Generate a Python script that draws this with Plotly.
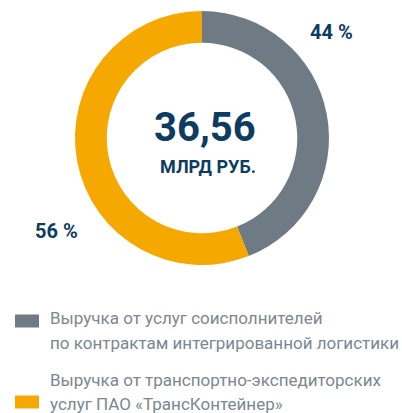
import plotly.graph_objects as go

# Data
categories = [
    "Выручка от услуг соисполнителей<br>по контрактам интегрированной логистики",
    "Выручка от транспортно-экспедиторских<br>услуг ПАО «ТрансКонтейнер»",
]
shares = [44, 56]
share_labels = ["44 %", "56 %"]
total_value = "36,56"
total_unit = "МЛРД РУБ."
colors = ["#6f7b84", "#f5a800"]

W, H = 402, 413
NAVY = "#0d3c61"
GREY_TXT = "#7b8791"
FONT = "Roboto"

cx, cy, r = 202, 138, 127

fig = go.Figure()
fig.add_trace(go.Pie(
    values=shares,
    labels=categories,
    hole=0.75,
    sort=False,
    direction="clockwise",
    rotation=0,
    marker=dict(colors=colors, line=dict(width=0)),
    textinfo="none",
    hoverinfo="label+percent",
    showlegend=False,
    domain=dict(x=[(cx - r) / W, (cx + r) / W], y=[(H - cy - r) / H, (H - cy + r) / H]),
))

ann = []
# center text
ann.append(dict(x=205 / W, y=1 - 127 / H, xref="paper", yref="paper", text="<b>" + total_value + "</b>",
                showarrow=False, font=dict(family=FONT, size=40, color=NAVY), xanchor="center", yanchor="middle"))
ann.append(dict(x=208 / W, y=1 - 166 / H, xref="paper", yref="paper", text="<b>" + total_unit + "</b>",
                showarrow=False, font=dict(family=FONT, size=18, color=NAVY), xanchor="center", yanchor="middle"))
# percent labels
label_pos = [(331, 32), (56, 231)]
for (px, py), t in zip(label_pos, share_labels):
    ann.append(dict(x=px / W, y=1 - py / H, xref="paper", yref="paper", text="<b>" + t + "</b>",
                    showarrow=False, font=dict(family=FONT, size=20, color=NAVY), xanchor="center", yanchor="middle"))

# legend
legend_lines = [cat.split("<br>") for cat in categories]
legend_line_y = [[318, 343], [380, 404]]
square_y = [321, 402]
shapes = []
for i, lines in enumerate(legend_lines):
    for line, ly in zip(lines, legend_line_y[i]):
        ann.append(dict(x=48 / W, y=1 - ly / H, xref="paper", yref="paper", text=line,
                        showarrow=False, align="left", font=dict(family=FONT, size=17, color=GREY_TXT),
                        xanchor="left", yanchor="middle"))
    shapes.append(dict(type="rect", xref="paper", yref="paper",
                       x0=15 / W, x1=39 / W, y0=1 - (square_y[i] - 6.5) / H, y1=1 - (square_y[i] + 6.5) / H,
                       fillcolor=colors[i], line=dict(width=0)))

fig.update_layout(
    width=W, height=H,
    margin=dict(l=0, r=0, t=0, b=0),
    paper_bgcolor="white", plot_bgcolor="white",
    annotations=ann, shapes=shapes,
)
fig.write_html("out.html", config={"displayModeBar": False},
               post_script="document.body.style.margin='0px';document.body.style.overflow='hidden';")
